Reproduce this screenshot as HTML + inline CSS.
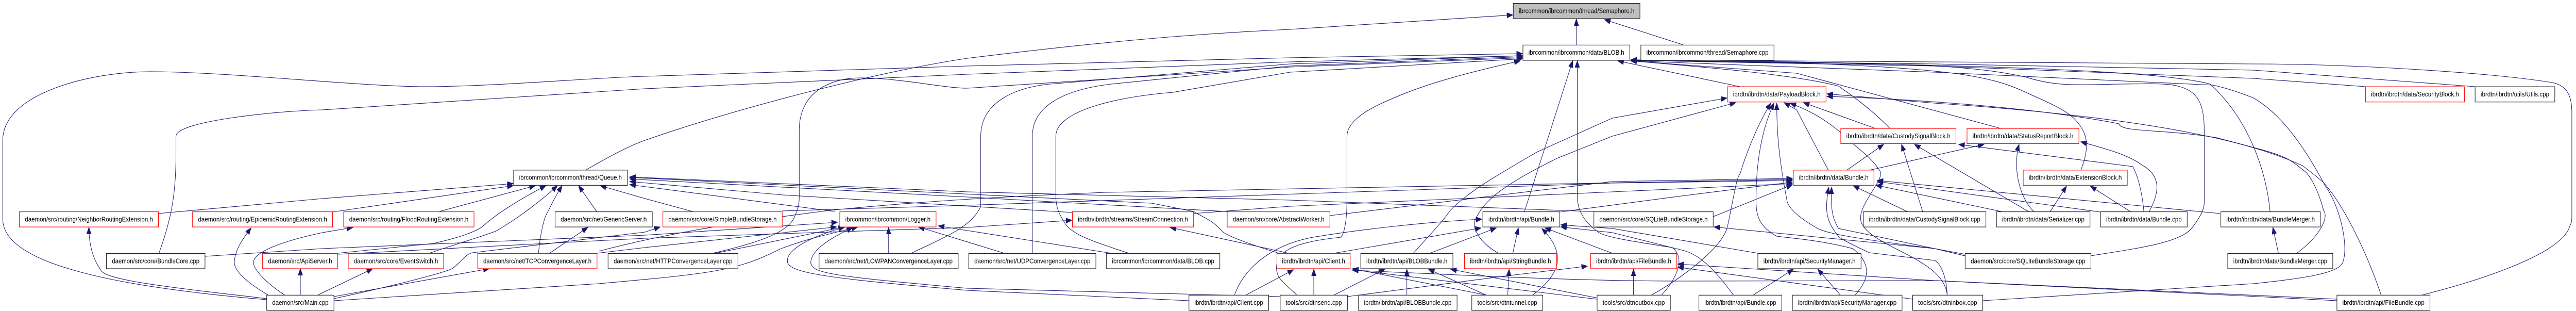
<!DOCTYPE html>
<html><head><meta charset="utf-8"><style>
html,body{margin:0;padding:0;background:#fff;width:100%;height:100%;overflow:hidden;}
svg{display:block;position:fixed;left:0;top:0;width:100vw;height:100vh;overflow:hidden;}
text{font-family:"Liberation Sans",Helvetica,Arial,sans-serif;font-size:13px;fill:#000;text-anchor:middle;}
.e{fill:none;stroke:#191970;stroke-width:1.1;marker-end:url(#a);}
.n{fill:#fff;stroke:#222;stroke-width:1.2;}
.r{fill:#fff;stroke:#ff0000;stroke-width:1.2;}
.g{fill:#bfbfbf;stroke:#222;stroke-width:1.2;}
</style></head><body>
<svg viewBox="0 0 5592 603" preserveAspectRatio="none" xmlns="http://www.w3.org/2000/svg">
<defs><marker id="a" markerUnits="userSpaceOnUse" markerWidth="14" markerHeight="12" refX="13" refY="5" orient="auto"><path d="M0,0L13,5L0,10z" fill="#191970" stroke="#191970" stroke-width="1"/></marker></defs>
<g>
<path class="e" d="M3422,87 L3422,37"/>
<path class="e" d="M3654,87 L3483,38"/>
<path class="e" d="M1271,330 C1320,305 1360,285 1400,272 C1600,210 1900,140 2100,113 C2400,80 2600,65 2800,57 L3284,29"/>
<path class="e" d="M579,581 C300,560 10,520 6,427 L6,272 C6,180 200,139 326,139 C500,139 800,170 941,168 C1100,166 1300,150 1400,148 L2100,128 L2800,112 L3305,104"/>
<path class="e" d="M345,491 C370,430 382,380 382,300 L382,264 C382,235 600,215 700,213 L1400,172 L2100,144 L2800,120 L3305,108"/>
<path class="e" d="M344,414 L700,385 L1114,356"/>
<path class="e" d="M579,579 C400,560 230,545 219,524 C200,500 193,470 193,441"/>
<path class="e" d="M582,572 C540,550 505,525 509,505 C512,480 530,460 545,442"/>
<path class="e" d="M618,572 C580,550 545,520 551,505 C556,490 600,470 700,451 L766,441"/>
<path class="e" d="M652,572 L652,521"/>
<path class="e" d="M690,572 L809,521"/>
<path class="e" d="M722,411 L1114,360"/>
<path class="e" d="M445,497 L700,482 L1400,456 L1818,431"/>
<path class="e" d="M954,410 L1162,360"/>
<path class="e" d="M733,491 L941,472 C1000,460 1030,450 1048,439 C1070,420 1120,390 1185,360"/>
<path class="e" d="M932,491 C1000,470 1060,455 1079,447 C1130,420 1180,385 1210,360"/>
<path class="e" d="M1169,491 C1172,460 1180,420 1191,408 C1200,390 1210,375 1220,360"/>
<path class="e" d="M1193,491 L1276,441"/>
<path class="e" d="M1296,411 L1256,360"/>
<path class="e" d="M1507,411 L1400,385 L1303,360"/>
<path class="e" d="M725,575 L1062,521"/>
<path class="e" d="M725,579 C850,555 960,530 981,521 C1000,510 1010,492 1026,490 L1400,450 L1433,440"/>
<path class="e" d="M725,583 L1300,550 C1550,530 1600,525 1693,483 C1760,460 1820,450 1862,440"/>
<path class="e" d="M1296,491 L1400,480 L1816,440"/>
<path class="e" d="M733,493 L1400,462 L2100,441 L2327,427"/>
<path class="e" d="M1553,491 L1833,440"/>
<path class="e" d="M1547,491 C1650,470 1712,450 1725,420 C1735,400 1735,390 1735,380 L1735,252 C1735,180 1800,151 1869,151 C1950,151 2050,171 2100,171 L2800,130 L3305,112"/>
<path class="e" d="M1929,491 L1929,441"/>
<path class="e" d="M1978,491 C2050,460 2110,440 2129,400 L2129,264 C2129,200 2200,170 2279,163 L2800,124 L3305,108"/>
<path class="e" d="M2241,491 L2241,264 C2241,210 2300,175 2412,163 L2800,128 L3305,110"/>
<path class="e" d="M2450,491 C2380,470 2323,455 2310,430 C2295,410 2292,395 2292,381 L2292,264 C2292,220 2400,190 2546,179 L2800,140 L3305,114"/>
<path class="e" d="M2180,491 L1994,440"/>
<path class="e" d="M2412,491 L2100,447 L2037,438"/>
<path class="e" d="M2581,583 L2100,563 C1800,540 1721,530 1710,510 C1700,480 1790,450 1833,441"/>
<path class="e" d="M2779,575 L2100,559 C1800,535 1766,530 1760,510 C1760,480 1820,455 1851,441"/>
<path class="e" d="M2328,412 L1700,378 L1367,352"/>
<path class="e" d="M2680,411 L2100,382 L1367,347"/>
<path class="e" d="M2773,490 C2700,470 2660,455 2654,449 C2630,425 2610,421 2591,410 L2500,394 L1367,344"/>
<path class="e" d="M3480,411 L2800,388 L2100,372 L1367,343"/>
<path class="e" d="M1812,410 L1367,358"/>
<path class="e" d="M2793,490 L2540,441"/>
<path class="e" d="M2591,414 L2800,400 L3500,372 L3891,356"/>
<path class="e" d="M2887,418 L3500,352 L3891,346"/>
<path class="e" d="M3309,411 L3414,118"/>
<path class="e" d="M2896,491 L3215,442"/>
<path class="e" d="M3104,491 L3248,442"/>
<path class="e" d="M3284,491 L3296,442"/>
<path class="e" d="M3500,491 L3354,442"/>
<path class="e" d="M3327,572 C3390,530 3400,490 3347,443"/>
<path class="e" d="M2680,572 C2700,520 2760,475 2850,460 C2950,445 3100,430 3217,425"/>
<path class="e" d="M3068,491 C3120,440 3140,420 3148,408 C3190,370 3246,342 3336,295 L3500,229 L3749,190"/>
<path class="e" d="M3253,491 C3210,470 3195,440 3202,427 C3220,390 3260,360 3380,307 L3500,264 L3768,199"/>
<path class="e" d="M2852,572 L2852,522"/>
<path class="e" d="M2705,572 L2808,523"/>
<path class="e" d="M2896,572 L3006,522"/>
<path class="e" d="M3054,572 L3054,522"/>
<path class="e" d="M3226,572 L3101,522"/>
<path class="e" d="M3273,572 L3276,522"/>
<path class="e" d="M3226,572 L2936,521"/>
<path class="e" d="M3475,581 L2936,523"/>
<path class="e" d="M3475,579 L3149,522"/>
<path class="e" d="M2925,575 L3270,535 L3446,516"/>
<path class="e" d="M3546,572 L3546,522"/>
<path class="e" d="M2815,572 C2790,550 2771,541 2771,520 C2771,490 2800,470 2911,460 C2920,450 2924,420 2924,388 L2924,264 C2924,240 2956,218 3000,200 C3050,180 3112,155 3300,118"/>
<path class="e" d="M3607,572 C3640,540 3660,500 3630,480 C3560,470 3480,460 3468,449 C3440,430 3424,410 3424,380 L3424,118"/>
<path class="e" d="M3777,168 L3512,118"/>
<path class="e" d="M4103,249 C4060,210 4020,185 3991,167 C3900,145 3700,130 3540,118"/>
<path class="e" d="M4071,249 L3915,199"/>
<path class="e" d="M3969,330 L3900,213 L3873,199"/>
<path class="e" d="M4009,330 L4089,280"/>
<path class="e" d="M4058,330 L4307,280"/>
<path class="e" d="M4343,249 L3900,142 L3540,118"/>
<path class="e" d="M4517,330 C4535,290 4531,267 4520,250 C4500,220 4475,210 4400,180 C4330,150 4251,133 3900,122 L3540,117"/>
<path class="e" d="M4450,411 L4486,361"/>
<path class="e" d="M4626,411 L4538,361"/>
<path class="e" d="M4416,411 C4380,380 4370,320 4383,280"/>
<path class="e" d="M4665,411 C4690,370 4690,340 4650,320 C4620,300 4570,288 4517,275"/>
<path class="e" d="M4654,411 C4650,370 4640,340 4630,323 L4252,280"/>
<path class="e" d="M4142,411 L4023,360"/>
<path class="e" d="M4174,411 L4128,280"/>
<path class="e" d="M4405,411 L4156,280"/>
<path class="e" d="M4349,411 L4072,359"/>
<path class="e" d="M4559,411 L4075,352"/>
<path class="e" d="M4819,414 L4075,350"/>
<path class="e" d="M4946,491 L4934,441"/>
<path class="e" d="M4539,496 C4650,480 4736,470 4760,440 C4785,410 4785,400 4785,388 L4785,252 C4785,200 4770,176 4728,167 C4700,160 4640,163 4601,163 C4500,165 4460,167 4400,150 C4300,130 4200,125 3900,120 L3540,117"/>
<path class="e" d="M4266,496 L4200,482 L3721,440"/>
<path class="e" d="M3816,491 L3500,443 L3388,436"/>
<path class="e" d="M3806,572 L3893,522"/>
<path class="e" d="M3995,572 L3946,522"/>
<path class="e" d="M3763,572 C3720,520 3690,495 3656,486 L3500,451 L3388,440"/>
<path class="e" d="M3585,572 C3650,540 3740,480 3750,439 C3760,400 3770,340 3777,338 C3800,270 3830,220 3844,200"/>
<path class="e" d="M4027,572 C4060,540 4062,510 4022,482 C3950,465 3870,460 3857,458 C3820,440 3812,420 3812,388 C3812,300 3830,240 3851,200"/>
<path class="e" d="M4270,497 L4200,482 C4000,460 3960,450 3946,443 C3900,420 3880,400 3879,388 C3860,300 3857,250 3857,200"/>
<path class="e" d="M4227,572 C4220,500 4060,480 4040,430 C4030,400 4090,350 4082,333 C4060,300 4019,280 4000,260 C3960,230 3930,215 3886,200"/>
<path class="e" d="M4227,572 C4225,530 4210,510 4200,505 L4058,490 C4010,470 3991,460 3991,458 C3965,430 3960,410 3970,363"/>
<path class="e" d="M4266,493 L4200,482 L3991,443 C3975,420 3975,400 3976,363"/>
<path class="e" d="M5073,583 L4900,575 L4200,544 L3642,512"/>
<path class="e" d="M4152,580 L3642,518"/>
<path class="e" d="M4304,583 L4892,550 C5000,540 5075,530 5085,510 C5100,480 5080,400 5048,361 C5000,280 4950,220 4892,190 C4850,175 4820,168 4803,165 L4200,140 L3540,118"/>
<path class="e" d="M5169,572 C5130,470 5080,390 5044,354 C5020,335 5010,330 5000,322 C4900,280 4700,230 4200,200 L3966,182"/>
<path class="e" d="M4986,491 C5040,455 5055,420 5044,408 C5030,360 5010,335 5000,330 C4960,300 4952,300 4812,267 C4700,250 4602,257 4600,240 C4400,205 4100,190 3966,187"/>
<path class="e" d="M5258,572 C5400,540 5560,490 5578,440 C5583,430 5583,427 5583,420 L5583,218 C5583,180 5568,165 5540,160 C5400,140 5100,124 4892,124 L4200,120 L3540,116"/>
<path class="e" d="M5135,168 L4892,152 L4200,128 L3540,117"/>
<path class="e" d="M5373,168 L4892,136 L4200,124 L3540,117"/>
<path class="e" d="M4928,411 C4920,330 4880,230 4798,163 C4700,140 4400,125 3540,117"/>
<path class="e" d="M5073,580 L4200,544 L3650,545 C3400,545 3100,530 2936,524"/>
<path class="e" d="M1698,409 L2100,398 L3500,355 L3891,350"/>
<path class="e" d="M3719,420 L3891,358"/>
<path class="e" d="M3387,411 L3650,380 L3891,353"/>
<path class="e" d="M1300,487 C1500,440 1700,420 1800,408 C2000,390 2200,380 2400,373 L3891,348"/>
</g>
<g>
<rect class="g" x="3285" y="6.6" width="275" height="29.5"/><text x="3422.5" y="25.4" textLength="251" lengthAdjust="spacingAndGlyphs">ibrcommon/ibrcommon/thread/Semaphore.h</text>
<rect class="n" x="3306" y="87.4" width="232" height="29.5"/><text x="3422" y="106.2" textLength="208" lengthAdjust="spacingAndGlyphs">ibrcommon/ibrcommon/data/BLOB.h</text>
<rect class="n" x="3562" y="87.4" width="289" height="29.5"/><text x="3706.5" y="106.2" textLength="265" lengthAdjust="spacingAndGlyphs">ibrcommon/ibrcommon/thread/Semaphore.cpp</text>
<rect class="r" x="3750" y="168.2" width="214" height="29.5"/><text x="3857" y="187" textLength="190" lengthAdjust="spacingAndGlyphs">ibrdtn/ibrdtn/data/PayloadBlock.h</text>
<rect class="r" x="5135" y="168.2" width="215" height="29.5"/><text x="5242.5" y="187" textLength="191" lengthAdjust="spacingAndGlyphs">ibrdtn/ibrdtn/data/SecurityBlock.h</text>
<rect class="n" x="5373" y="168.2" width="173" height="29.5"/><text x="5459.5" y="187" textLength="149" lengthAdjust="spacingAndGlyphs">ibrdtn/ibrdtn/utils/Utils.cpp</text>
<rect class="r" x="3996" y="249" width="250" height="29.5"/><text x="4121" y="267.8" textLength="226" lengthAdjust="spacingAndGlyphs">ibrdtn/ibrdtn/data/CustodySignalBlock.h</text>
<rect class="r" x="4270" y="249" width="243" height="29.5"/><text x="4391.5" y="267.8" textLength="219" lengthAdjust="spacingAndGlyphs">ibrdtn/ibrdtn/data/StatusReportBlock.h</text>
<rect class="n" x="1115" y="329.8" width="247" height="29.5"/><text x="1238.5" y="348.6" textLength="223" lengthAdjust="spacingAndGlyphs">ibrcommon/ibrcommon/thread/Queue.h</text>
<rect class="r" x="3893" y="329.8" width="175" height="29.5"/><text x="3980.5" y="348.6" textLength="151" lengthAdjust="spacingAndGlyphs">ibrdtn/ibrdtn/data/Bundle.h</text>
<rect class="r" x="4392" y="329.8" width="226" height="29.5"/><text x="4505" y="348.6" textLength="202" lengthAdjust="spacingAndGlyphs">ibrdtn/ibrdtn/data/ExtensionBlock.h</text>
<rect class="r" x="42" y="410.6" width="302" height="29.5"/><text x="193" y="429.4" textLength="278" lengthAdjust="spacingAndGlyphs">daemon/src/routing/NeighborRoutingExtension.h</text>
<rect class="r" x="418" y="410.6" width="304" height="29.5"/><text x="570" y="429.4" textLength="280" lengthAdjust="spacingAndGlyphs">daemon/src/routing/EpidemicRoutingExtension.h</text>
<rect class="r" x="746" y="410.6" width="283" height="29.5"/><text x="887.5" y="429.4" textLength="259" lengthAdjust="spacingAndGlyphs">daemon/src/routing/FloodRoutingExtension.h</text>
<rect class="n" x="1205" y="410.6" width="211" height="29.5"/><text x="1310.5" y="429.4" textLength="187" lengthAdjust="spacingAndGlyphs">daemon/src/net/GenericServer.h</text>
<rect class="r" x="1439" y="410.6" width="259" height="29.5"/><text x="1568.5" y="429.4" textLength="235" lengthAdjust="spacingAndGlyphs">daemon/src/core/SimpleBundleStorage.h</text>
<rect class="r" x="1823" y="410.6" width="209" height="29.5"/><text x="1927.5" y="429.4" textLength="185" lengthAdjust="spacingAndGlyphs">ibrcommon/ibrcommon/Logger.h</text>
<rect class="r" x="2328" y="410.6" width="263" height="29.5"/><text x="2459.5" y="429.4" textLength="239" lengthAdjust="spacingAndGlyphs">ibrdtn/ibrdtn/streams/StreamConnection.h</text>
<rect class="r" x="2664" y="410.6" width="223" height="29.5"/><text x="2775.5" y="429.4" textLength="199" lengthAdjust="spacingAndGlyphs">daemon/src/core/AbstractWorker.h</text>
<rect class="n" x="3219" y="410.6" width="167" height="29.5"/><text x="3302.5" y="429.4" textLength="143" lengthAdjust="spacingAndGlyphs">ibrdtn/ibrdtn/api/Bundle.h</text>
<rect class="n" x="3460" y="410.6" width="259" height="29.5"/><text x="3589.5" y="429.4" textLength="235" lengthAdjust="spacingAndGlyphs">daemon/src/core/SQLiteBundleStorage.h</text>
<rect class="n" x="4045" y="410.6" width="266" height="29.5"/><text x="4178" y="429.4" textLength="242" lengthAdjust="spacingAndGlyphs">ibrdtn/ibrdtn/data/CustodySignalBlock.cpp</text>
<rect class="n" x="4334" y="410.6" width="203" height="29.5"/><text x="4435.5" y="429.4" textLength="179" lengthAdjust="spacingAndGlyphs">ibrdtn/ibrdtn/data/Serializer.cpp</text>
<rect class="n" x="4560" y="410.6" width="188" height="29.5"/><text x="4654" y="429.4" textLength="164" lengthAdjust="spacingAndGlyphs">ibrdtn/ibrdtn/data/Bundle.cpp</text>
<rect class="n" x="4821" y="410.6" width="216" height="29.5"/><text x="4929" y="429.4" textLength="192" lengthAdjust="spacingAndGlyphs">ibrdtn/ibrdtn/data/BundleMerger.h</text>
<rect class="n" x="231" y="491.5" width="214" height="29.5"/><text x="338" y="510.3" textLength="190" lengthAdjust="spacingAndGlyphs">daemon/src/core/BundleCore.cpp</text>
<rect class="r" x="570" y="491.5" width="163" height="29.5"/><text x="651.5" y="510.3" textLength="139" lengthAdjust="spacingAndGlyphs">daemon/src/ApiServer.h</text>
<rect class="r" x="756" y="491.5" width="207" height="29.5"/><text x="859.5" y="510.3" textLength="183" lengthAdjust="spacingAndGlyphs">daemon/src/core/EventSwitch.h</text>
<rect class="r" x="1037" y="491.5" width="259" height="29.5"/><text x="1166.5" y="510.3" textLength="235" lengthAdjust="spacingAndGlyphs">daemon/src/net/TCPConvergenceLayer.h</text>
<rect class="n" x="1320" y="491.5" width="282" height="29.5"/><text x="1461" y="510.3" textLength="258" lengthAdjust="spacingAndGlyphs">daemon/src/net/HTTPConvergenceLayer.cpp</text>
<rect class="n" x="1778" y="491.5" width="302" height="29.5"/><text x="1929" y="510.3" textLength="278" lengthAdjust="spacingAndGlyphs">daemon/src/net/LOWPANConvergenceLayer.cpp</text>
<rect class="n" x="2103" y="491.5" width="276" height="29.5"/><text x="2241" y="510.3" textLength="252" lengthAdjust="spacingAndGlyphs">daemon/src/net/UDPConvergenceLayer.cpp</text>
<rect class="n" x="2402" y="491.5" width="246" height="29.5"/><text x="2525" y="510.3" textLength="222" lengthAdjust="spacingAndGlyphs">ibrcommon/ibrcommon/data/BLOB.cpp</text>
<rect class="r" x="2772" y="491.5" width="159" height="29.5"/><text x="2851.5" y="510.3" textLength="137" lengthAdjust="spacingAndGlyphs">ibrdtn/ibrdtn/api/Client.h</text>
<rect class="n" x="2954" y="491.5" width="200" height="29.5"/><text x="3054" y="510.3" textLength="176" lengthAdjust="spacingAndGlyphs">ibrdtn/ibrdtn/api/BLOBBundle.h</text>
<rect class="r" x="3179" y="491.5" width="200" height="29.5"/><text x="3279" y="510.3" textLength="176" lengthAdjust="spacingAndGlyphs">ibrdtn/ibrdtn/api/StringBundle.h</text>
<rect class="r" x="3453" y="491.5" width="187" height="29.5"/><text x="3546.5" y="510.3" textLength="163" lengthAdjust="spacingAndGlyphs">ibrdtn/ibrdtn/api/FileBundle.h</text>
<rect class="n" x="3816" y="491.5" width="224" height="29.5"/><text x="3928" y="510.3" textLength="200" lengthAdjust="spacingAndGlyphs">ibrdtn/ibrdtn/api/SecurityManager.h</text>
<rect class="n" x="4266" y="491.5" width="273" height="29.5"/><text x="4402.5" y="510.3" textLength="249" lengthAdjust="spacingAndGlyphs">daemon/src/core/SQLiteBundleStorage.cpp</text>
<rect class="n" x="4836" y="491.5" width="228" height="29.5"/><text x="4950" y="510.3" textLength="204" lengthAdjust="spacingAndGlyphs">ibrdtn/ibrdtn/data/BundleMerger.cpp</text>
<rect class="n" x="579" y="572.3" width="146" height="29.5"/><text x="652" y="591.1" textLength="122" lengthAdjust="spacingAndGlyphs">daemon/src/Main.cpp</text>
<rect class="n" x="2581" y="572.3" width="173" height="29.5"/><text x="2667.5" y="591.1" textLength="149" lengthAdjust="spacingAndGlyphs">ibrdtn/ibrdtn/api/Client.cpp</text>
<rect class="n" x="2779" y="572.3" width="146" height="29.5"/><text x="2852" y="591.1" textLength="122" lengthAdjust="spacingAndGlyphs">tools/src/dtnsend.cpp</text>
<rect class="n" x="2949" y="572.3" width="214" height="29.5"/><text x="3056" y="591.1" textLength="190" lengthAdjust="spacingAndGlyphs">ibrdtn/ibrdtn/api/BLOBBundle.cpp</text>
<rect class="n" x="3195" y="572.3" width="154" height="29.5"/><text x="3272" y="591.1" textLength="130" lengthAdjust="spacingAndGlyphs">tools/src/dtntunnel.cpp</text>
<rect class="n" x="3467" y="572.3" width="159" height="29.5"/><text x="3546.5" y="591.1" textLength="135" lengthAdjust="spacingAndGlyphs">tools/src/dtnoutbox.cpp</text>
<rect class="n" x="3688" y="572.3" width="180" height="29.5"/><text x="3778" y="591.1" textLength="156" lengthAdjust="spacingAndGlyphs">ibrdtn/ibrdtn/api/Bundle.cpp</text>
<rect class="n" x="3891" y="572.3" width="238" height="29.5"/><text x="4010" y="591.1" textLength="214" lengthAdjust="spacingAndGlyphs">ibrdtn/ibrdtn/api/SecurityManager.cpp</text>
<rect class="n" x="4152" y="572.3" width="152" height="29.5"/><text x="4228" y="591.1" textLength="128" lengthAdjust="spacingAndGlyphs">tools/src/dtninbox.cpp</text>
<rect class="n" x="5073" y="572.3" width="202" height="29.5"/><text x="5174" y="591.1" textLength="178" lengthAdjust="spacingAndGlyphs">ibrdtn/ibrdtn/api/FileBundle.cpp</text>
</g>
</svg>
</body></html>
